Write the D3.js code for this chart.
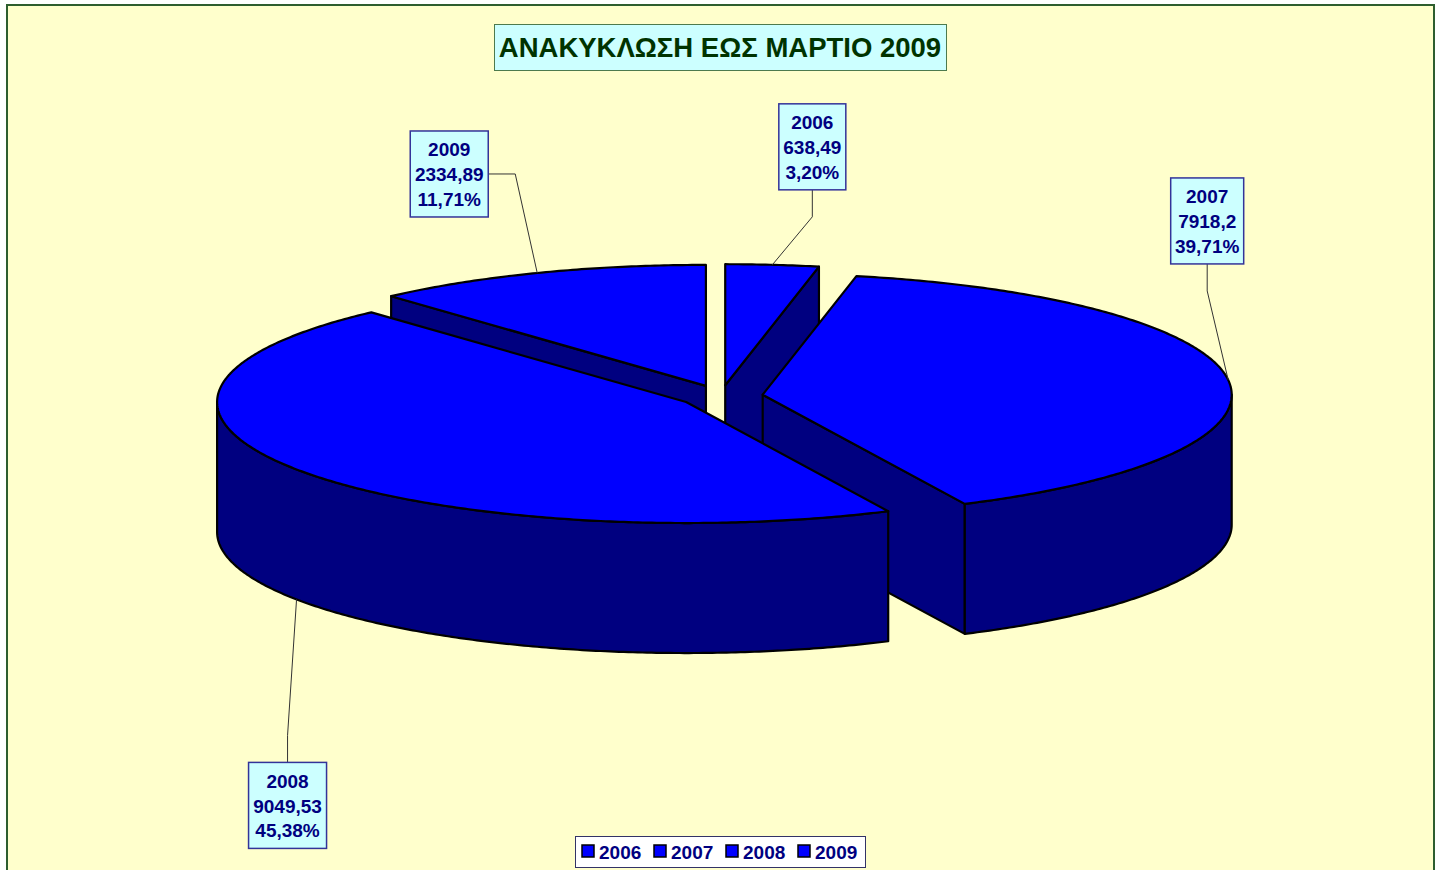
<!DOCTYPE html>
<head>
<meta charset="utf-8">
<title>Ανακύκλωση έως Μάρτιο 2009</title>
<script src="https://d3js.org/d3.v7.min.js"></script>
<style>
  body { margin: 0; background: #ffffff; }
  text { font-family: "Liberation Sans", Arial, sans-serif; font-weight: bold; }
</style>
</head>
<body>
<div id="chart"></div>
<script>
// data
var years = ["2006", "2007", "2008", "2009"];
var values = [638.49, 7918.2, 9049.53, 2334.89];
var chartTitle = "ΑΝΑΚΥΚΛΩΣΗ ΕΩΣ ΜΑΡΤΙΟ 2009";

var width = 1444, height = 870;

// 3d pie geometry
var cx = 721, cy = 396;      // centre of the top face
var rx = 469, ry = 121;      // ellipse radii
var depth = 130;             // thickness of the pie
var explode = 42;            // how far each slice is pulled out

var topColor = "#0000ff", sideColor = "#000080";

// where each data label box sits, relative to its leader anchor
var labelLayout = [
  {dx: 40,  dy: -118, side: "bottom"},
  {dx: -21, dy: -159, side: "bottom"},
  {dx: -9,  dy: 206,  side: "top"},
  {dx: -88, dy: -99,  side: "right"}
];

var svg = d3.select("#chart").append("svg")
  .attr("width", width)
  .attr("height", height);

// chart area
svg.append("rect")
  .attr("x", 7).attr("y", 5)
  .attr("width", 1427).attr("height", 880)
  .attr("fill", "#ffffcc")
  .attr("stroke", "#2e5e2e")
  .attr("stroke-width", 2);

// title
var titleG = svg.append("g");
titleG.append("rect")
  .attr("x", 494.5).attr("y", 24.5)
  .attr("width", 452).attr("height", 46)
  .attr("fill", "#ccffff")
  .attr("stroke", "#4d7a4d")
  .attr("stroke-width", 1);
titleG.append("text")
  .attr("x", 720).attr("y", 57)
  .attr("text-anchor", "middle")
  .attr("font-size", 27.5)
  .attr("fill", "#003300")
  .text(chartTitle);

var total = d3.sum(values);
var pie = d3.pie().sort(null).value(function(d) { return d; });
var arcs = pie(values);

var kY = ry / rx;
var angleSteps = d3.scaleLinear().domain([0, 1]);

// point on the pie for slice offset (ox, oy), angle a (clockwise from 12 o'clock), height z
function pt(s, a, r, z) {
  return [s.ox + rx * r * Math.sin(a), s.oy - ry * r * Math.cos(a) + z];
}
function rim(s, a0, a1, z) {
  var n = Math.max(2, Math.ceil(Math.abs(a1 - a0) / 0.01));
  angleSteps.range([a0, a1]);
  return d3.range(n + 1).map(function(i) { return pt(s, angleSteps(i / n), 1, z); });
}

var line = d3.line();

arcs.forEach(function(d, i) {
  d.mid = (d.startAngle + d.endAngle) / 2;
  d.ox = cx + explode * Math.sin(d.mid);
  d.oy = cy - explode * kY * Math.cos(d.mid);
  d.year = years[i];
  d.index = i;
});

// back slices first
var order = arcs.slice().sort(function(a, b) { return Math.cos(b.mid) - Math.cos(a.mid); });

var pieG = svg.append("g");

order.forEach(function(s) {
  var g = pieG.append("g");
  var apex = [s.ox, s.oy];
  var apexB = [s.ox, s.oy + depth];

  // radial cut faces, only those turned towards the viewer
  [[s.startAngle, s.startAngle - Math.PI / 2], [s.endAngle, s.endAngle + Math.PI / 2]].forEach(function(f) {
    if (Math.cos(f[1]) < -0.01) {
      var p = pt(s, f[0], 1, 0), pb = pt(s, f[0], 1, depth);
      g.append("path")
        .attr("d", line([apex, p, pb, apexB]) + "Z")
        .attr("fill", sideColor)
        .attr("stroke", "#000").attr("stroke-width", 2.2).attr("stroke-linejoin", "round");
    }
  });

  // outer curved wall (front half only)
  var w0 = Math.max(s.startAngle, Math.PI / 2), w1 = Math.min(s.endAngle, 3 * Math.PI / 2);
  if (w1 > w0) {
    var pts = rim(s, w0, w1, 0).concat(rim(s, w1, w0, depth));
    g.append("path")
      .attr("d", line(pts) + "Z")
      .attr("fill", sideColor)
      .attr("stroke", "#000").attr("stroke-width", 2.2).attr("stroke-linejoin", "round");
  }

  // top face
  var topPts = [apex].concat(rim(s, s.startAngle, s.endAngle, 0));
  g.append("path")
    .attr("d", line(topPts) + "Z")
    .attr("fill", topColor)
    .attr("stroke", "#000").attr("stroke-width", 2.2).attr("stroke-linejoin", "round");
});

// data labels with leader lines
var fmtPct = d3.format(".2f");
var labelG = svg.append("g");

arcs.forEach(function(s, i) {
  var lay = labelLayout[i];
  var anchor = pt(s, s.mid, 1, Math.cos(s.mid) < 0 ? depth : 0);
  var lines = [s.year, String(s.value).replace(".", ","), fmtPct(s.value / total * 100).replace(".", ",") + "%"];
  var bx = anchor[0] + lay.dx, by = anchor[1] + lay.dy;

  var g = labelG.append("g");
  var box = g.append("rect");
  var txt = g.selectAll("text").data(lines).enter().append("text")
    .attr("x", bx)
    .attr("y", function(t, j) { return by - 43 + 25.5 + j * 24.7; })
    .attr("text-anchor", "middle")
    .attr("font-size", 19)
    .attr("fill", "#000080")
    .text(function(t) { return t; });

  var tw = d3.max(txt.nodes(), function(n) { return n.getComputedTextLength(); });
  var bw = Math.round(tw + 9), bh = 86;
  box.attr("x", bx - bw / 2).attr("y", by - bh / 2)
    .attr("width", bw).attr("height", bh)
    .attr("fill", "#ccffff")
    .attr("stroke", "#333399").attr("stroke-width", 1.5);

  var start, elbow;
  if (lay.side === "bottom") { start = [bx, by + bh / 2]; elbow = [bx, by + bh / 2 + 27]; }
  else if (lay.side === "top") { start = [bx, by - bh / 2]; elbow = [bx, by - bh / 2 - 27]; }
  else { start = [bx + bw / 2, by]; elbow = [bx + bw / 2 + 27, by]; }

  labelG.insert("path", ":first-child")
    .attr("d", line([start, elbow, anchor]))
    .attr("fill", "none")
    .attr("stroke", "#333")
    .attr("stroke-width", 1);
});

// legend
var legendG = svg.append("g").attr("transform", "translate(575,836)");
legendG.append("rect")
  .attr("x", 0.5).attr("y", 0.5)
  .attr("width", 290).attr("height", 31)
  .attr("fill", "#ffffff")
  .attr("stroke", "#333366").attr("stroke-width", 1);

var items = legendG.selectAll(".legends").data(years).enter().append("g")
  .classed("legends", true)
  .attr("transform", function(d, i) { return "translate(" + (7 + i * 72) + ",0)"; });
items.append("rect")
  .attr("x", 0).attr("y", 9)
  .attr("width", 12).attr("height", 12)
  .attr("fill", topColor)
  .attr("stroke", "#000").attr("stroke-width", 1.5);
items.append("text")
  .attr("x", 17).attr("y", 23)
  .attr("font-size", 19)
  .attr("fill", "#000080")
  .text(function(d) { return d; });
</script>
</body>
